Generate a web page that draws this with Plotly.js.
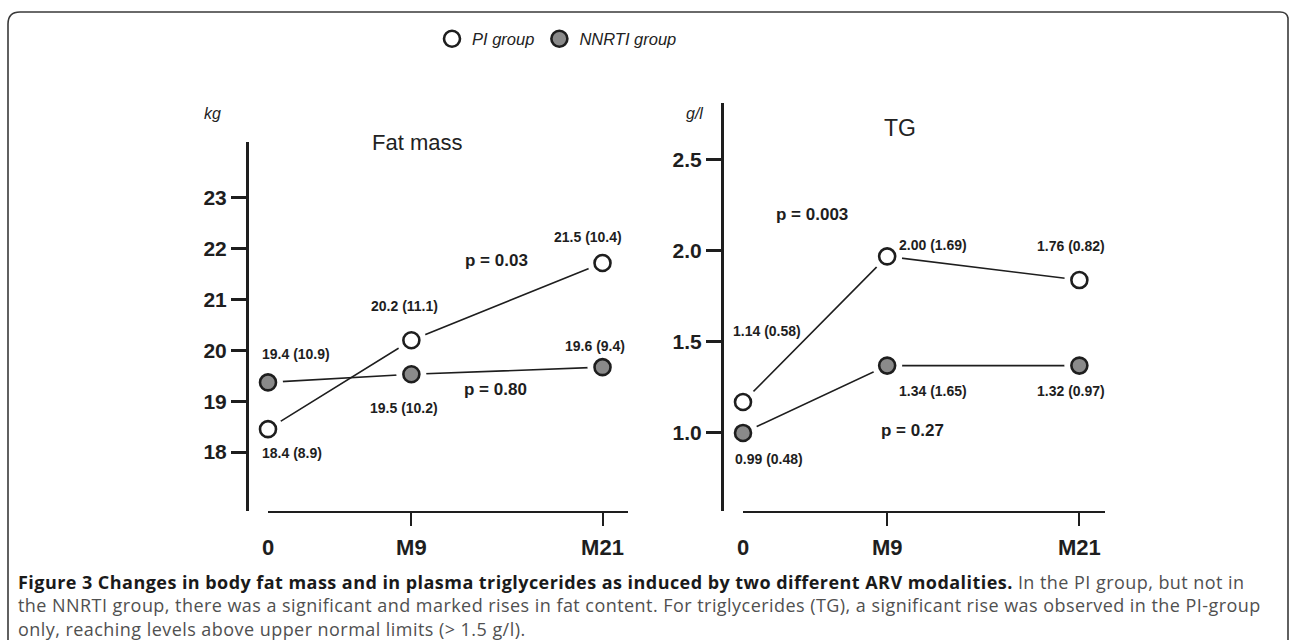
<!DOCTYPE html>
<html>
<head>
<meta charset="utf-8">
<script src="https://cdn.plot.ly/plotly-3.0.1.min.js"></script>
<style>html,body{margin:0;padding:0;background:#fff;}#chart{width:1290px;height:640px;}</style>
</head>
<body>
<div id="chart"></div>
<script>
// ---- data ----
const months = [0, 9, 21];
const xTickText = ['0', 'M9', 'M21'];
const groupNames = ['PI group', 'NNRTI group'];

const fatPI = [18.45, 20.2, 21.72];
const fatNNRTI = [19.37, 19.53, 19.67];
const fatPILabels = ['18.4 (8.9)', '20.2 (11.1)', '21.5 (10.4)'];
const fatNNRTILabels = ['19.4 (10.9)', '19.5 (10.2)', '19.6 (9.4)'];
const fatTicks = [18, 19, 20, 21, 22, 23];
const fatPvals = ['p = 0.03', 'p = 0.80'];

const tgPI = [1.17, 1.97, 1.84];
const tgNNRTI = [1.0, 1.37, 1.37];
const tgPILabels = ['1.14 (0.58)', '2.00 (1.69)', '1.76 (0.82)'];
const tgNNRTILabels = ['0.99 (0.48)', '1.34 (1.65)', '1.32 (0.97)'];
const tgTicks = [1.0, 1.5, 2.0, 2.5];
const tgTickText = ['1.0', '1.5', '2.0', '2.5'];
const tgPvals = ['p = 0.003', 'p = 0.27'];

const captionLines = [
  '<span style="color:#1a1a1a"><b>Figure 3 Changes in body fat mass and in plasma triglycerides as induced by two different ARV modalities.</b></span> In the PI group, but not in',
  'the NNRTI group, there was a significant and marked rises in fat content. For triglycerides (TG), a significant rise was observed in the PI-group',
  'only, reaching levels above upper normal limits (&gt; 1.5 g/l).'
];

// ---- layout helpers (pixel -> paper, margins are zero) ----
const W = 1290, H = 640;
const px = v => v / W;
const py = v => 1 - v / H;

const FONT = 'Liberation Sans, Arial, sans-serif';
const CAPFONT = 'Open Sans, Noto Sans, sans-serif';
const DARK = '#1e1e1e';
const GREY = '#8a8a8a';

function panelTraces(xa, ya, pi, nn, showLegend) {
  const common = {x: months, xaxis: xa, yaxis: ya, cliponaxis: false, hoverinfo: 'skip'};
  return [
    Object.assign({}, common, {y: pi, mode: 'lines', line: {color: DARK, width: 1.6}, showlegend: false}),
    Object.assign({}, common, {y: nn, mode: 'lines', line: {color: DARK, width: 1.6}, showlegend: false}),
    // white halos make the small gaps between lines and markers
    Object.assign({}, common, {y: pi, mode: 'markers', marker: {size: 30, color: '#fff'}, showlegend: false}),
    Object.assign({}, common, {y: nn, mode: 'markers', marker: {size: 30, color: '#fff'}, showlegend: false}),
    Object.assign({}, common, {y: pi, mode: 'markers', name: groupNames[0], showlegend: showLegend, legendrank: 1,
      marker: {size: 16, color: '#fff', line: {color: DARK, width: 2.6}}}),
    Object.assign({}, common, {y: nn, mode: 'markers', name: groupNames[1], showlegend: showLegend, legendrank: 2,
      marker: {size: 16, color: GREY, line: {color: DARK, width: 2.6}}})
  ];
}

const data = [].concat(
  panelTraces('x', 'y', fatPI, fatNNRTI, true),
  panelTraces('x2', 'y2', tgPI, tgNNRTI, false)
);

const valFont = {family: FONT, size: 14, color: DARK, weight: 'bold'};
const pFont = {family: FONT, size: 17, color: DARK, weight: 'bold'};

function pointLabels(xa, ya, vals, labels, offs) {
  return vals.map((v, i) => ({
    x: months[i], y: v, xref: xa, yref: ya, text: labels[i], showarrow: false,
    xanchor: 'center', yanchor: 'middle',
    xshift: offs[i][0], yshift: -offs[i][1], font: valFont
  }));
}

let annotations = [].concat(
  pointLabels('x', 'y', fatPI, fatPILabels, [[24, 24], [-7, -34], [-15, -26]]),
  pointLabels('x', 'y', fatNNRTI, fatNNRTILabels, [[28, -28], [-7, 34], [-8, -21]]),
  pointLabels('x2', 'y2', tgPI, tgPILabels, [[24, -71], [46, -11], [-8, -34]]),
  pointLabels('x2', 'y2', tgNNRTI, tgNNRTILabels, [[26, 26], [46, 25], [-8, 25]])
);

function pAnn(x, y, xa, ya, text, font) {
  return {x: x, y: y, xref: xa, yref: ya, xanchor: 'center', yanchor: 'middle', text: text, showarrow: false, font: font};
}
function centered(x, y, text, font) {
  return {x: x, y: y, xref: 'paper', yref: 'paper', xanchor: 'center', yanchor: 'middle', text: text, showarrow: false, font: font};
}

annotations.push(
  pAnn(14.36, 21.76, 'x', 'y', fatPvals[0], pFont),
  pAnn(14.3, 19.24, 'x', 'y', fatPvals[1], pFont),
  pAnn(4.33, 2.2, 'x2', 'y2', tgPvals[0], pFont),
  pAnn(10.6, 1.016, 'x2', 'y2', tgPvals[1], pFont),
  centered(px(417), py(143), 'Fat mass', {family: FONT, size: 22, color: '#222'}),
  centered(px(900), py(128), 'TG', {family: FONT, size: 23, color: '#222'}),
  centered(px(212), py(114), 'kg', {family: FONT, size: 16, color: '#222', style: 'italic'}),
  centered(px(694), py(114), 'g/l', {family: FONT, size: 16, color: '#222', style: 'italic'})
);

const captionIndex = annotations.length;
annotations.push({x: px(16), y: py(605), xref: 'paper', yref: 'paper', xanchor: 'left', yanchor: 'middle',
  text: captionLines.join('<br>'), showarrow: false, align: 'left',
  font: {family: CAPFONT, size: 18, color: '#505050'}});

// slightly wider tracking for the caption, like the reference typeface
const st = document.createElement('style');
st.textContent = `g.annotation[data-index="${captionIndex}"] text { letter-spacing: 0.45px; }`;
document.head.appendChild(st);

const xCommon = {
  range: [0, 22.6], tickvals: months, ticktext: xTickText, ticks: '', showline: true, linecolor: DARK, linewidth: 2,
  showgrid: false, zeroline: false, fixedrange: true, automargin: false, ticklabelstandoff: 16,
  tickfont: {family: FONT, size: 22, color: DARK, weight: 'bold'},
  minor: {tickvals: [9, 21], ticks: 'outside', ticklen: 13, tickwidth: 2, tickcolor: DARK, showgrid: false}
};
const yCommon = {
  showline: true, linecolor: DARK, linewidth: 3, ticks: 'outside', ticklen: 15, tickwidth: 3, tickcolor: DARK,
  showgrid: false, zeroline: false, fixedrange: true, automargin: false, anchor: 'free',
  tickfont: {family: FONT, size: 21, color: DARK, weight: 'bold'}
};

const layout = {
  width: W, height: H, margin: {l: 0, r: 0, t: 0, b: 0},
  paper_bgcolor: '#fff', plot_bgcolor: 'rgba(0,0,0,0)',
  showlegend: true,
  legend: {orientation: 'h', x: px(557), y: py(39), xanchor: 'center', yanchor: 'middle',
    font: {family: FONT, size: 16.5, color: '#222', style: 'italic'}, itemclick: false, itemdoubleclick: false,
    bgcolor: 'rgba(0,0,0,0)'},
  xaxis: Object.assign({}, xCommon, {domain: [px(268), px(628)], anchor: 'y'}),
  yaxis: Object.assign({}, yCommon, {domain: [py(511), py(142)], range: [16.84, 24.1], tickvals: fatTicks,
    position: px(247)}),
  xaxis2: Object.assign({}, xCommon, {domain: [px(743), px(1105)], anchor: 'y2'}),
  yaxis2: Object.assign({}, yCommon, {domain: [py(511), py(103)], range: [0.571, 2.813], tickvals: tgTicks,
    ticktext: tgTickText, position: px(722)}),
  annotations: annotations,
  shapes: [{
    type: 'path', xref: 'paper', yref: 'paper', layer: 'below',
    path: `M ${px(8)} ${py(660)} L ${px(8)} ${py(24)} Q ${px(8)} ${py(12)} ${px(20)} ${py(12)} L ${px(1280)} ${py(12)} Q ${px(1287)} ${py(12)} ${px(1288)} ${py(18)} L ${px(1288)} ${py(660)}`,
    line: {color: '#3a3a3a', width: 1.6}
  }]
};

Plotly.newPlot('chart', data, layout, {displayModeBar: false, staticPlot: true});
</script>
</body>
</html>
